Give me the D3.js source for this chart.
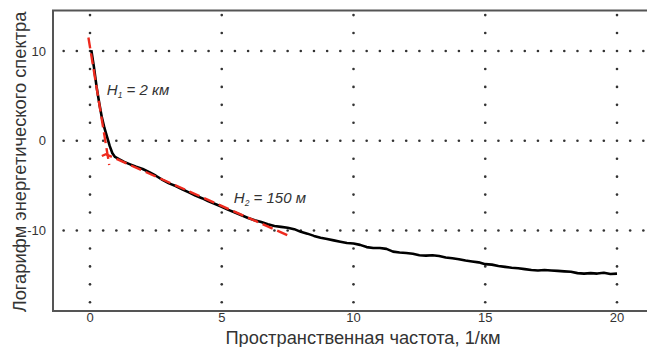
<!DOCTYPE html>
<html><head><meta charset="utf-8">
<script src="https://cdn.jsdelivr.net/npm/d3@7"></script>
<style>body{margin:0;background:#fff}svg{display:block}</style>
</head><body>
<script>
const specX = [0.05,0.15,0.25,0.35,0.45,0.55,0.65,0.75,0.85,0.95,1.1,1.3,1.5,1.75,2.0,2.25,2.5,2.75,3.0,3.25,3.5,3.75,4.0,4.25,4.5,4.75,5.0,5.25,5.5,5.75,6.0,6.25,6.5,6.75,7.0,7.25,7.5,7.75,8.0,8.25,8.5,8.75,9.0,9.25,9.5,9.75,10.0,10.25,10.5,10.75,11.0,11.25,11.5,11.75,12.0,12.25,12.5,12.75,13.0,13.25,13.5,13.75,14.0,14.25,14.5,14.75,15.0,15.25,15.5,15.75,16.0,16.25,16.5,16.75,17.0,17.25,17.5,17.75,18.0,18.25,18.5,18.75,19.0,19.25,19.5,19.75,20.0];
const specY = [10.1,8.2,6.0,4.2,2.6,1.4,0.4,-0.6,-1.4,-1.8,-2.05,-2.35,-2.6,-2.9,-3.15,-3.5,-3.9,-4.35,-4.75,-5.05,-5.4,-5.75,-6.1,-6.4,-6.75,-7.05,-7.35,-7.7,-8.0,-8.3,-8.6,-8.85,-9.05,-9.3,-9.5,-9.6,-9.7,-9.85,-10.15,-10.35,-10.6,-10.8,-10.95,-11.1,-11.25,-11.4,-11.45,-11.6,-11.85,-11.95,-11.95,-12.05,-12.35,-12.45,-12.5,-12.6,-12.75,-12.8,-12.75,-12.85,-13.0,-13.1,-13.2,-13.35,-13.45,-13.55,-13.75,-13.8,-13.95,-14.05,-14.15,-14.2,-14.3,-14.4,-14.45,-14.4,-14.45,-14.5,-14.55,-14.6,-14.75,-14.8,-14.75,-14.8,-14.7,-14.85,-14.8];
const fit1X = [-0.06, 0.73];
const fit1Y = [11.5, -2.7];
const fit2X = [0.45, 0.6, 7.55];
const fit2Y = [-1.7, -1.5, -10.6];
const xTicks = [0,5,10,15,20];
const yTicks = [10,0,-10];
const labels = [{x:0.64,y:5.1,main:"H",sub:"1",rest:" = 2 км"},{x:5.46,y:-6.94,main:"H",sub:"2",rest:" = 150 м"}];
const xTitle = "Пространственная частота, 1/км";
const yTitle = "Логарифм энергетического спектра";

const W=647,H=347;
const x = d3.scaleLinear().domain([0,20]).range([90,617]);
const y = d3.scaleLinear().domain([-10,10]).range([230.5,51]);
const svg = d3.select("body").append("svg").attr("width",W).attr("height",H);
const font="'Liberation Sans', Arial, sans-serif";

// grid dots
const g = svg.append("g").attr("fill","#333");
xTicks.forEach(t=>{
  d3.range(-18,15,2).forEach(v=>{
    g.append("circle").attr("cx",x(t)).attr("cy",y(v)).attr("r",1.3);
  });
});
yTicks.forEach(t=>{
  d3.range(-1,21.01,0.5).forEach(v=>{
    if (xTicks.includes(v)) return;
    g.append("circle").attr("cx",x(v)).attr("cy",y(t)).attr("r",1.3);
  });
});

// frame
const fLeft=53, fTop=10.5, fBottom=311;
svg.append("path").attr("d",`M${W+5},${fTop}H${fLeft}V${fBottom}H${W+5}`)
  .attr("fill","none").attr("stroke","#555").attr("stroke-width",2);

// tick labels
xTicks.forEach(t=>svg.append("text").attr("x",x(t)).attr("y",322).attr("text-anchor","middle")
  .attr("font-family",font).attr("font-size",13).attr("fill","#333").text(t));
yTicks.forEach(t=>svg.append("text").attr("x",46).attr("y",y(t)+4.5).attr("text-anchor","end")
  .attr("font-family",font).attr("font-size",13).attr("fill","#333").text(t));

// black spectrum
const line = d3.line().x(d=>x(d[0])).y(d=>y(d[1]));
svg.append("path").datum(specX.map((v,i)=>[v,specY[i]])).attr("d",line)
  .attr("fill","none").attr("stroke","#000").attr("stroke-width",2.6).attr("stroke-linejoin","round");

// red dashed fits
[[fit1X,fit1Y],[fit2X,fit2Y]].forEach(([fx,fy])=>{
  svg.append("path").datum(fx.map((v,i)=>[v,fy[i]])).attr("d",line)
    .attr("fill","none").attr("stroke","#ee2a1e").attr("stroke-width",2.4).attr("stroke-dasharray","11,5");
});

// labels
labels.forEach(l=>{
  const t = svg.append("text").attr("x",x(l.x)).attr("y",y(l.y)).attr("font-family",font)
    .attr("font-size",15).attr("font-style","italic").attr("fill","#333");
  t.append("tspan").text(l.main);
  t.append("tspan").attr("font-size",8.5).attr("dy",3).text(l.sub);
  t.append("tspan").attr("dy",-3).text(l.rest);
});

// axis titles
svg.append("text").attr("x",363).attr("y",344).attr("text-anchor","middle")
  .attr("font-family",font).attr("font-size",18.3).attr("fill","#333").text(xTitle);
svg.append("text").attr("transform","translate(26,162) rotate(-90)").attr("text-anchor","middle")
  .attr("font-family",font).attr("font-size",18.3).attr("fill","#333").text(yTitle);
</script>
</body></html>
